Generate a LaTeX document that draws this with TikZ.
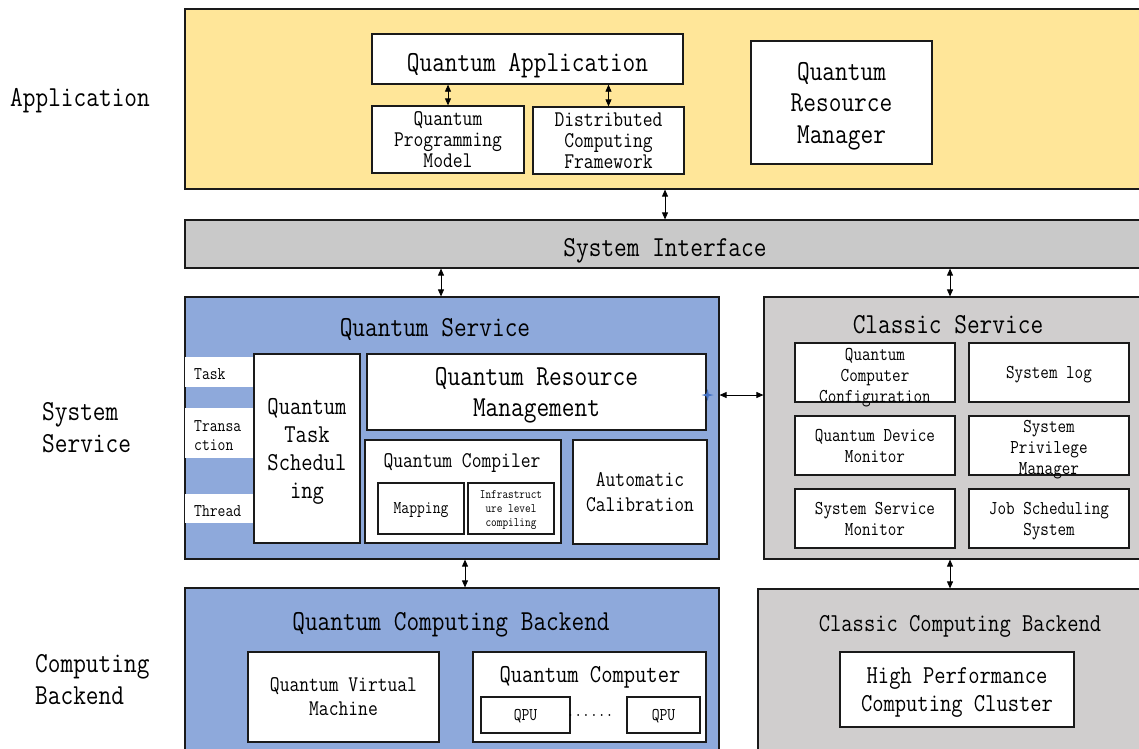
\documentclass[tikz,border=0pt]{standalone}
\usepackage{fontspec}
\setmainfont{Latin Modern Mono}[FakeStretch=0.85]
\usetikzlibrary{arrows.meta}
\definecolor{appy}{HTML}{FFE699}
\definecolor{qblue}{HTML}{8EA9DB}
\definecolor{sigray}{HTML}{C9C9C9}
\definecolor{csgray}{HTML}{D0CECE}
\definecolor{edgec}{HTML}{1A1A1A}
\definecolor{markblue}{HTML}{4472C4}
\newcommand\fsz[2]{\fontsize{#1}{#2}\selectfont}
\tikzset{
  box/.style={rectangle, draw=edgec, line width=1.3pt, fill=white, inner sep=0pt, align=center},
  band/.style={rectangle, draw=edgec, line width=1.2pt, inner sep=0pt, align=center},
  strip/.style={rectangle, fill=white, inner sep=0pt},
  lbl/.style={inner sep=0pt, align=center},
  dar/.style={line width=0.8pt, {Triangle[length=7pt,width=6pt]}-{Triangle[length=7pt,width=6pt]}},
  big/.style={font=\fsz{29}{31.5}},
  mid/.style={font=\fsz{25.8}{28}},
  med/.style={font=\fsz{22.4}{24}},
  sml/.style={font=\fsz{19.6}{21}},
  tiny/.style={font=\fsz{17.9}{19}},
}
\begin{document}
\begin{tikzpicture}[x=1pt,y=-1pt]
\useasboundingbox (0,0) rectangle (1139,748);
% ---- Application layer
\node[band, fill=appy, minimum width=957, minimum height=180] (app) at (663.5,99) {};
\node[box, minimum width=311, minimum height=50] (qa) at (527.5,59) {};
\node[lbl, big] (qatext) at (527.5,66) {Quantum Application};
\node[box, font=\fsz{22.4}{21}, text depth=-10pt, minimum width=152, minimum height=67] (qpm) at (448,139.5) {Quantum\\Programming\\Model};
\node[box, font=\fsz{22.4}{21}, text depth=-8pt, minimum width=151, minimum height=67] (dcf) at (608.5,140.5) {Distributed\\Computing\\Framework};
\node[box, big, text depth=-8pt, minimum width=181, minimum height=123] (qrmgr) at (841.5,102.5) {Quantum\\Resource\\Manager};
% ---- System interface
\node[band, fill=sigray, minimum width=957, minimum height=48] (si) at (663.5,244) {};
\node[lbl, big] (sitext) at (665,251) {System Interface};
% ---- Quantum service
\node[band, fill=qblue, minimum width=534, minimum height=262] (qs) at (452,428) {};
\node[lbl, big] (qstitle) at (435,329) {Quantum Service};
\node[strip, minimum width=69, minimum height=30] (stask) at (219.5,372) {};
\node[strip, minimum width=69, minimum height=50] (strans) at (219.5,433) {};
\node[strip, minimum width=69, minimum height=29] (sthread) at (219.5,508.5) {};
\node[lbl, tiny, anchor=west] (ttask) at (194,374) {Task};
\node[lbl, tiny, anchor=west, align=left] (ttrans) at (194,435.5) {Transa\\ction};
\node[lbl, tiny, anchor=west] (tthread) at (194,511) {Thread};
\node[box, mid, text depth=-8pt, minimum width=106, minimum height=189] (qts) at (307,448.5) {Quantum\\Task\\Schedul\\ing};
\node[box, big, text depth=-12pt, minimum width=339, minimum height=76] (qrm) at (536.5,392) {Quantum Resource\\Management};
\node[box, minimum width=196, minimum height=103] (qc) at (463,491.5) {};
\node[lbl, med] (qctitle) at (462,463) {Quantum Compiler};
\node[box, tiny, text depth=-7pt, minimum width=86, minimum height=51] (map) at (421,508.5) {Mapping};
\node[box, font=\fsz{12.9}{14}, text depth=-5pt, minimum width=86, minimum height=51] (infra) at (511,508.5) {Infrastruct\\ure level\\compiling};
\node[box, font=\fsz{22.4}{25}, text depth=-12pt, minimum width=134, minimum height=104] (ac) at (640,492) {Automatic\\Calibration};
\fill[markblue] (707.5,389) -- (708.7,393.8) -- (713.5,395) -- (708.7,396.2) -- (707.5,401) -- (706.3,396.2) -- (701.5,395) -- (706.3,393.8) -- cycle;
% ---- Classic service
\node[band, fill=csgray, minimum width=378, minimum height=262] (cs) at (953,428) {};
\node[lbl, big] (cstitle) at (948,325) {Classic Service};
\node[box, minimum width=160, minimum height=59] (qcc) at (875,372.5) {};
\node[lbl, sml] (qcctext) at (875,378) {Quantum\\Computer\\Configuration};
\node[box, sml, text depth=-6pt, minimum width=160, minimum height=59] (slog) at (1049,372.5) {System log};
\node[box, sml, text depth=-7pt, minimum width=160, minimum height=59] (qdm) at (875,445.5) {Quantum Device\\Monitor};
\node[box, minimum width=160, minimum height=59] (spm) at (1049,445.5) {};
\node[lbl, sml] (spmtext) at (1049,449.5) {System\\Privilege\\Manager};
\node[box, sml, text depth=-7pt, minimum width=160, minimum height=59] (ssm) at (875,518.5) {System Service\\Monitor};
\node[box, sml, text depth=-9pt, minimum width=160, minimum height=59] (jss) at (1049,518.5) {Job Scheduling\\System};
% ---- Quantum computing backend
\node[band, fill=qblue, minimum width=534, minimum height=164] (qcb) at (452,670) {};
\node[lbl, big] (qcbtitle) at (451,625) {Quantum Computing Backend};
\node[box, med, text depth=-12pt, minimum width=191, minimum height=90] (qvm) at (343.5,697) {Quantum Virtual\\Machine};
\node[box, minimum width=233, minimum height=90] (qcomp) at (589.5,697) {};
\node[lbl, mid] (qcomptitle) at (590,677) {Quantum Computer};
\node[box, tiny, text depth=-7pt, minimum width=89, minimum height=36] (qpu1) at (525.5,715) {QPU};
\node[box, tiny, text depth=-7pt, minimum width=73, minimum height=36] (qpu2) at (663.5,715) {QPU};
\node[lbl, tiny] (dots) at (590,715) {\textbf{......}};
% ---- Classic computing backend
\node[band, fill=csgray, minimum width=384, minimum height=163] (ccb) at (950,670.5) {};
\node[lbl, mid] (ccbtitle) at (960,626) {Classic Computing Backend};
\node[box, mid, text depth=-18pt, minimum width=234, minimum height=75] (hpc) at (957,689.5) {High Performance\\Computing Cluster};
% ---- Layer labels
\node[lbl, big, anchor=west] (lapp) at (10,101) {Application};
\node[lbl, big, anchor=west, align=left] (lss) at (42,427.5) {System\\Service};
\node[lbl, big, anchor=west, align=left] (lcb) at (35,679.5) {Computing\\Backend};
% ---- Connectors
\coordinate (xa) at (665,0);
\coordinate (xb) at (441,0);
\coordinate (xc) at (950,0);
\coordinate (xd) at (465,0);
\coordinate (yr) at (0,395);
\draw[dar] (qa.south -| qpm.north) -- (qpm.north);
\draw[dar] (qa.south -| dcf.north) -- (dcf.north);
\draw[dar] (app.south -| xa) -- (si.north -| xa);
\draw[dar] (si.south -| xb) -- (qs.north -| xb);
\draw[dar] (si.south -| xc) -- (cs.north -| xc);
\draw[dar] (qs.east |- yr) -- (cs.west |- yr);
\draw[dar] (qs.south -| xd) -- (qcb.north -| xd);
\draw[dar] (cs.south -| xc) -- (ccb.north -| xc);
\end{tikzpicture}
\end{document}
